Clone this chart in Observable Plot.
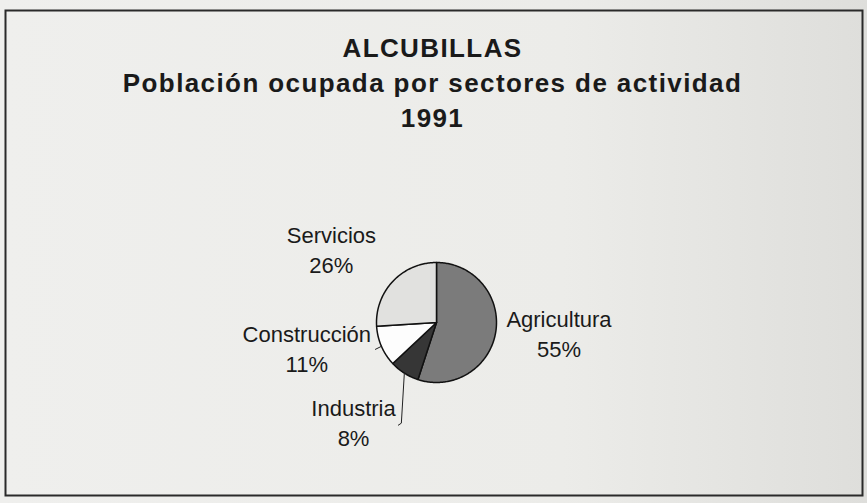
<!DOCTYPE html>
<html>
<head>
<meta charset="utf-8">
<script src="https://cdn.jsdelivr.net/npm/d3@7"></script>
<script src="https://cdn.jsdelivr.net/npm/@observablehq/plot@0.6"></script>
<style>
  html, body { margin: 0; padding: 0; background: #f4f4f2; }
  #chart svg { display: block; background: linear-gradient(to right, #efefed 0%, #ecece9 65%, #dededb 100%); }
</style>
</head>
<body>
<div id="chart"></div>
<script>
// ---- data ----
const sectors = ["Agricultura", "Industria", "Construcción", "Servicios"];
const shares = [55, 8, 11, 26];
const titleLines = ["ALCUBILLAS", "Población ocupada por sectores de actividad", "1991"];

// ---- style / layout ----
const sliceColors = ["#7b7b7b", "#363636", "#fdfdfd", "#e1e1df"];
const W = 867, H = 503;
const pie = {cx: 436, cy: 322, r: 60};
const labelRadius = 125;
// label nudges (dx, dy) relative to the mid-angle point, and leader hooks
const labelNudge = {
  "Agricultura": [-1, 15],
  "Industria": [-16, 18],
  "Construcción": [-15, 0],
  "Servicios": [-14, 36]
};
const leaderShape = {
  "Industria": [[0, 0], [-3, 50], [-6, 52]],
  "Construcción": [[0, 0], [-6, 3]]
};

// ---- geometry from data ----
const arcs = d3.pie().sort(null)(shares);
const polar = (rad, a) => [pie.cx + rad * Math.sin(a), pie.cy - rad * Math.cos(a)];
const slices = [];
const labels = [];
const leaders = [];
arcs.forEach((a, i) => {
  const s = sectors[i];
  const n = Math.max(2, Math.ceil((a.endAngle - a.startAngle) / (Math.PI / 180)));
  slices.push({sector: s, x: pie.cx, y: pie.cy});
  for (let k = 0; k <= n; k++) {
    const t = a.startAngle + (a.endAngle - a.startAngle) * k / n;
    const [x, y] = polar(pie.r, t);
    slices.push({sector: s, x, y});
  }
  const mid = (a.startAngle + a.endAngle) / 2;
  const [lx, ly] = polar(labelRadius, mid);
  const [dx, dy] = labelNudge[s];
  labels.push({text: `${s}\n${shares[i]}%`, x: lx + dx, y: ly + dy});
  if (leaderShape[s]) {
    const [ex, ey] = polar(pie.r, mid);
    leaderShape[s].forEach(([ox, oy]) => leaders.push({sector: s, x: ex + ox, y: ey + oy}));
  }
});

const chart = Plot.plot({
  width: W,
  height: H,
  marginLeft: 5, marginRight: 5, marginTop: 10, marginBottom: 8,
  x: {domain: [0, W], range: [0, W], axis: null},
  y: {domain: [0, H], range: [0, H], axis: null},
  color: {domain: sectors, range: sliceColors},
  style: {fontFamily: "'Liberation Sans', Arial, sans-serif", color: "#1a1a1a"},
  marks: [
    Plot.frame({stroke: "#2a2a2a", strokeWidth: 2}),
    Plot.text(titleLines, {
      x: () => 432, y: (d, i) => 56 + 35 * i, text: d => d,
      lineAnchor: "bottom", fontSize: 26, fontWeight: "bold", fill: "#1a1a1a"
    }),
    Plot.line(slices, {
      x: "x", y: "y", z: "sector", fill: "sector",
      stroke: "#111", strokeWidth: 1.5, curve: "linear-closed", strokeLinejoin: "round"
    }),
    Plot.line(leaders, {x: "x", y: "y", z: "sector", stroke: "#222", strokeWidth: 1}),
    Plot.text(labels, {
      x: "x", y: "y", text: "text", lineAnchor: "bottom", lineHeight: 1.35,
      fontSize: 22, fill: "#1a1a1a"
    })
  ]
});
// widen the bold title lettering like the scanned original
chart.querySelectorAll('g[font-weight="bold"]').forEach(g => g.setAttribute("letter-spacing", "1.4"));
document.getElementById("chart").append(chart);
</script>
</body>
</html>
